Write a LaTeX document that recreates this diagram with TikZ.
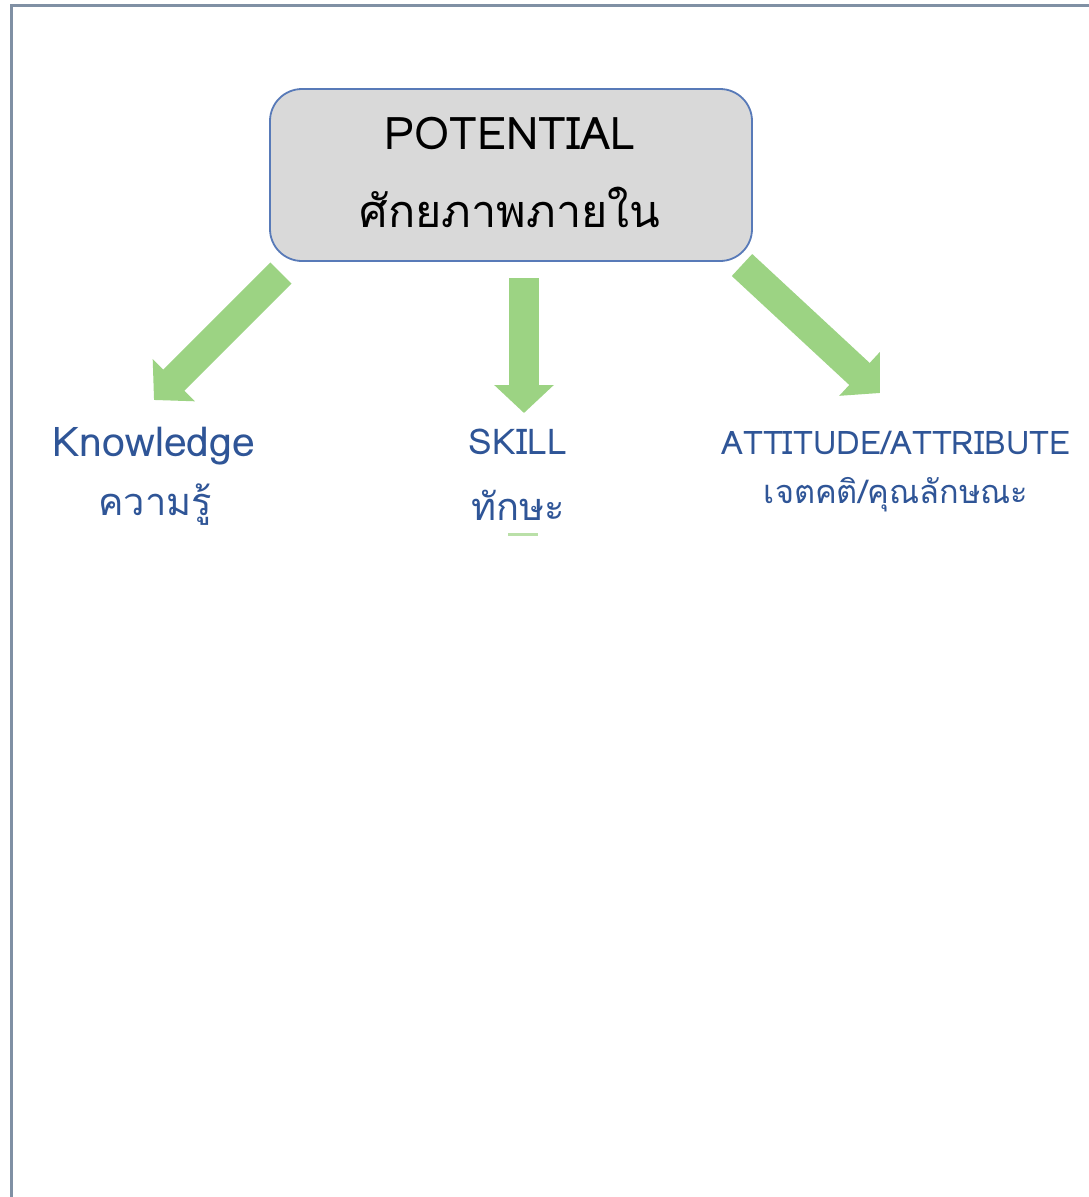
\documentclass[tikz,border=0pt]{standalone}
\usepackage{fontspec}
\setmainfont[Script=Thai]{Loma}
\newfontfamily\thai[Script=Thai]{Loma}
\usetikzlibrary{arrows.meta}
\definecolor{framecol}{RGB}{128,144,164}
\definecolor{boxfill}{RGB}{217,217,217}
\definecolor{boxline}{RGB}{88,122,184}
\definecolor{arrowgreen}{RGB}{156,211,131}
\definecolor{labelblue}{RGB}{47,85,151}
\tikzset{
  potbox/.style={draw=boxline, line width=1.8pt, fill=boxfill, rounded corners=32pt,
    minimum width=482pt, minimum height=172pt, inner sep=0pt},
  fatarrow/.style={draw=arrowgreen, line width=30pt,
    -{Triangle[width=58pt,length=28pt,fill=arrowgreen]}},
  lbl/.style={text=labelblue, inner sep=0pt, anchor=center},
}
\begin{document}
\begin{tikzpicture}[x=1pt,y=-1pt]
\useasboundingbox (0,0) rectangle (1089,1197);
\fill[white] (0,0) rectangle (1089,1197);
% frame
\draw[framecol, line width=3pt] (11,1197) -- (11,5) -- (1089,5);
% main box
\node[potbox] (pot) at (511,175) {};
\node[inner sep=0pt] (potE) at (510,133) {\fontsize{45}{50}\selectfont POTENTIAL};
\node[inner sep=0pt] (potT) at (510,207) {\fontsize{45}{50}\selectfont\thai ศักยภาพภายใน};
% arrow coordinates
\coordinate (a1s) at (281,273);
\coordinate (a1e) at (154,400);
\coordinate (a2s) at (524,278);
\coordinate (a2e) at (524,413);
\coordinate (a3s) at (742,265);
\coordinate (a3e) at (880,393);
\draw[fatarrow] (a1s) -- (a1e);
\draw[fatarrow] (a2s) -- (a2e);
\draw[fatarrow] (a3s) -- (a3e);
% labels
\node[lbl] (kn) at (154,446) {\fontsize{41}{45}\selectfont Knowledge};
\node[lbl] (knT) at (155,505) {\fontsize{38}{42}\selectfont\thai ความรู้};
\node[lbl] (sk) at (518,442) {\fontsize{35.5}{40}\selectfont SKILL};
\node[lbl] (skT) at (518,505) {\fontsize{38}{42}\selectfont\thai ทักษะ};
\node[lbl] (at) at (896,443) {\fontsize{32.5}{36}\selectfont ATTITUDE/ATTRIBUTE};
\node[lbl] (atT) at (896,495) {\fontsize{32.5}{36}\selectfont\thai เจตคติ/คุณลักษณะ};
% small green fragment below SKILL
\fill[arrowgreen!70] (508,533) rectangle (538,536);
\end{tikzpicture}
\end{document}
